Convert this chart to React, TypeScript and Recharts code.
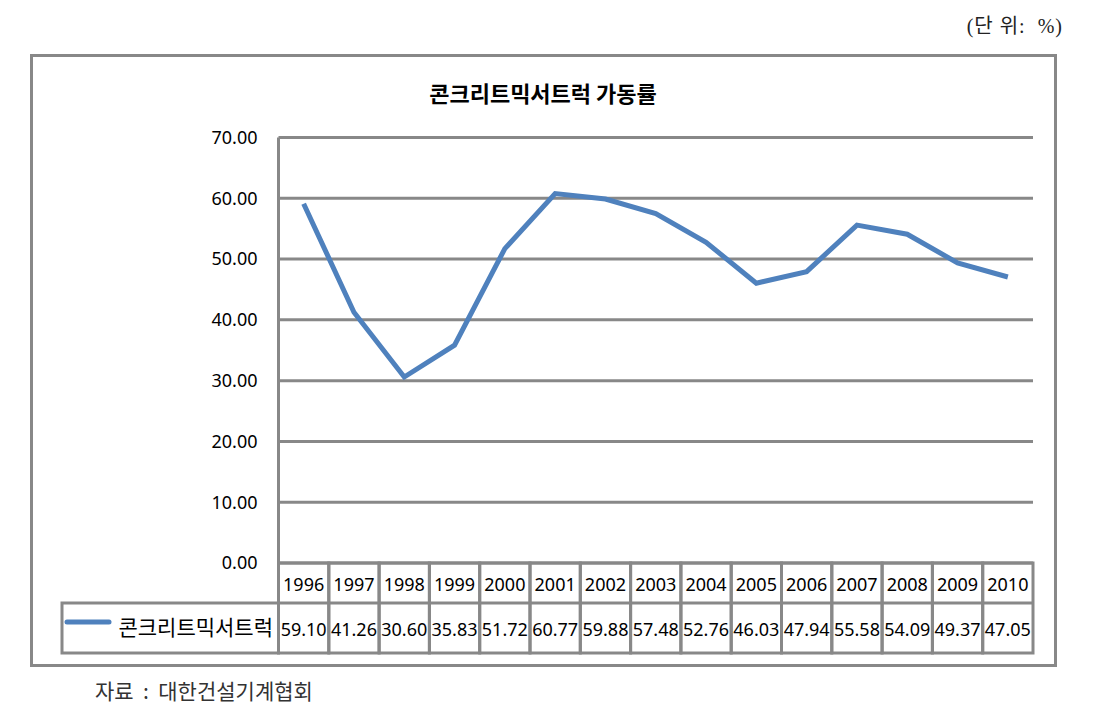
import React from 'react'
import { LineChart, Line, XAxis, YAxis, CartesianGrid } from 'recharts'

const years = ['1996', '1997', '1998', '1999', '2000', '2001', '2002', '2003', '2004', '2005', '2006', '2007', '2008', '2009', '2010']
const rates = [59.1, 41.26, 30.6, 35.83, 51.72, 60.77, 59.88, 57.48, 52.76, 46.03, 47.94, 55.58, 54.09, 49.37, 47.05]
const yTicks = [0, 10, 20, 30, 40, 50, 60, 70]
const seriesName = '콘크리트믹서트럭'

const data = years.map((y, i) => ({ year: y, rate: rates[i] }))

const GRAY = '#888888'
const BLUE = '#4F81BD'
const NUM_FONT = "'Noto Sans', 'Noto Sans CJK KR', sans-serif"
const KR_FONT = "'Noto Sans CJK KR', sans-serif"

const PLOT_LEFT = 278.5
const PLOT_RIGHT = 1033
const PLOT_TOP = 137.5
const PLOT_BOTTOM = 563
const BAND = (PLOT_RIGHT - PLOT_LEFT) / years.length
const ROW1 = 40
const ROW2 = 50

// draws one column of the data table under the plot (plus the legend cell on the first one)
const TableTick = (props: any) => {
  const { x, y, index } = props
  const top = y
  const left = x - BAND / 2
  const val = rates[index]
  return (
    <g>
      <rect x={left} y={top} width={BAND} height={ROW1 + ROW2} fill="none" stroke={GRAY} strokeWidth={3} />
      <line x1={left} x2={left + BAND} y1={top + ROW1} y2={top + ROW1} stroke={GRAY} strokeWidth={3} />
      <text x={x} y={top + 28} textAnchor="middle" fontSize={18} fontFamily={NUM_FONT} fill="#000">
        {years[index]}
      </text>
      <text x={x} y={top + ROW1 + 33} textAnchor="middle" fontSize={18} fontFamily={NUM_FONT} fill="#000">
        {val.toFixed(2)}
      </text>
      {index === 0 && (
        <g>
          <rect x={62} y={top + ROW1} width={left - 62} height={ROW2} fill="none" stroke={GRAY} strokeWidth={3} />
          <line x1={67} x2={109} y1={top + 59} y2={top + 59} stroke={BLUE} strokeWidth={5} strokeLinecap="round" />
          <text x={273} y={top + ROW1 + 32} textAnchor="end" fontSize={21} fontFamily={KR_FONT} fill="#000">
            {seriesName}
          </text>
        </g>
      )}
    </g>
  )
}

export default function App() {
  return (
    <div style={{ position: 'absolute', left: 0, top: 0, width: 1100, height: 719, background: '#fff' }}>
      <div style={{ position: 'absolute', left: 29.5, top: 53.5, width: 1027, height: 613, border: `3px solid ${GRAY}`, boxSizing: 'border-box' }} />
      <div style={{ position: 'absolute', right: 37, top: 10, fontSize: 20, letterSpacing: 1, fontFamily: "'Liberation Serif', 'Noto Sans CJK KR', serif", color: '#222', whiteSpace: 'pre' }}>
        (단 위:  %)
      </div>
      <div style={{ position: 'absolute', left: 0, width: 1086, top: 76, textAlign: 'center', fontSize: 22, fontWeight: 'bold', fontFamily: KR_FONT, color: '#000' }}>
        콘크리트믹서트럭 가동률
      </div>
      <div style={{ position: 'absolute', left: 95, top: 675, fontSize: 21, fontFamily: KR_FONT, color: '#333', whiteSpace: 'pre' }}>
        자료  :  대한건설기계협회
      </div>
      <div style={{ position: 'absolute', left: 0, top: 0 }}>
        <LineChart
          width={1100}
          height={719}
          data={data}
          margin={{ top: PLOT_TOP, right: 1100 - PLOT_RIGHT, bottom: 719 - PLOT_BOTTOM - 100, left: PLOT_LEFT - 80 }}
        >
          <CartesianGrid vertical={false} stroke={GRAY} strokeWidth={3} />
          <XAxis
            dataKey="year"
            height={100}
            padding={{ left: BAND / 2, right: BAND / 2 }}
            tickLine={false}
            axisLine={false}
            tickSize={0}
            tickMargin={0}
            interval={0}
            tick={<TableTick />}
          />
          <YAxis
            width={80}
            domain={[0, 70]}
            ticks={yTicks}
            tickFormatter={(v: number) => v.toFixed(2)}
            tickLine={false}
            tickSize={0}
            tickMargin={21}
            axisLine={{ stroke: GRAY, strokeWidth: 3 }}
            tick={{ fontSize: 18, fontFamily: NUM_FONT, fill: '#000' }}
          />
          <Line
            type="linear"
            dataKey="rate"
            stroke={BLUE}
            strokeWidth={5}
            dot={false}
            activeDot={false}
            isAnimationActive={false}
          />
        </LineChart>
      </div>
    </div>
  )
}
